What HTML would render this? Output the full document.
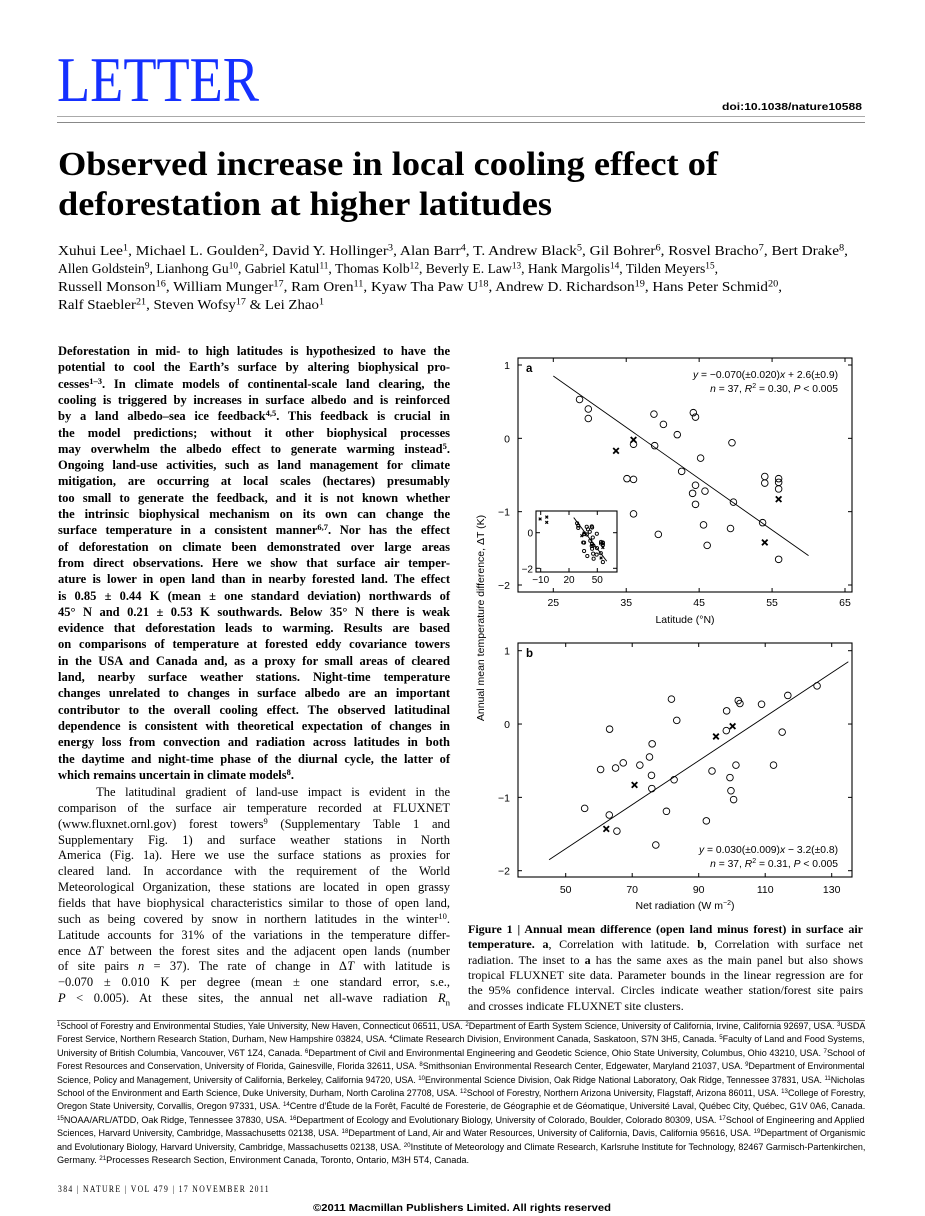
<!DOCTYPE html>
<html><head><meta charset="utf-8">
<style>
html,body{margin:0;padding:0;background:#fff}
body{width:925px;height:1216px;position:relative;overflow:hidden;font-family:"Liberation Serif",serif;color:#000}
.l{position:absolute;white-space:nowrap;transform-origin:0 50%}
.j{text-align:justify;text-align-last:justify}
.ab{font-weight:bold;font-size:12.5px;left:58px;width:392px;height:16px;line-height:16px}
.bd{font-size:12.5px;left:58px;width:392px;height:16px;line-height:16px}
.cap{font-size:12px;left:468px;width:395px;height:15px;line-height:15px}
.af{font-family:"Liberation Sans",sans-serif;font-size:9.2px;left:57px;width:808px;height:13px;line-height:13px}
.au{font-size:14px;left:58px;height:18px;line-height:18px}
sup{font-size:68%;line-height:0;vertical-align:0.45em}
</style></head><body>
<div class="l" style="left:57px;top:48px;font-size:64px;line-height:64px;color:#1530ff;width:202px" data-fit="1">LETTER</div>
<div class="l" style="left:722px;top:101px;font-family:'Liberation Sans',sans-serif;font-weight:bold;font-size:10.5px;width:140px" data-fit="1">doi:10.1038/nature10588</div>
<div style="position:absolute;left:57px;top:116px;width:808px;height:1px;background:#aaa"></div>
<div style="position:absolute;left:57px;top:122px;width:808px;height:1px;background:#888"></div>
<div class="l" style="left:58px;top:146px;font-weight:bold;font-size:34px;line-height:38px;width:660px" data-fit="1">Observed increase in local cooling effect of</div>
<div class="l" style="left:58px;top:186px;font-weight:bold;font-size:34px;line-height:38px;width:494px" data-fit="1">deforestation at higher latitudes</div>
<div class="l au" style="top:243px;width:790px" data-fit="1">Xuhui Lee<sup>1</sup>, Michael L. Goulden<sup>2</sup>, David Y. Hollinger<sup>3</sup>, Alan Barr<sup>4</sup>, T. Andrew Black<sup>5</sup>, Gil Bohrer<sup>6</sup>, Rosvel Bracho<sup>7</sup>, Bert Drake<sup>8</sup>,</div>
<div class="l au" style="top:261px;width:660px" data-fit="1">Allen Goldstein<sup>9</sup>, Lianhong Gu<sup>10</sup>, Gabriel Katul<sup>11</sup>, Thomas Kolb<sup>12</sup>, Beverly E. Law<sup>13</sup>, Hank Margolis<sup>14</sup>, Tilden Meyers<sup>15</sup>,</div>
<div class="l au" style="top:279px;width:724px" data-fit="1">Russell Monson<sup>16</sup>, William Munger<sup>17</sup>, Ram Oren<sup>11</sup>, Kyaw Tha Paw U<sup>18</sup>, Andrew D. Richardson<sup>19</sup>, Hans Peter Schmid<sup>20</sup>,</div>
<div class="l au" style="top:297px;width:266px" data-fit="1">Ralf Staebler<sup>21</sup>, Steven Wofsy<sup>17</sup> &amp; Lei Zhao<sup>1</sup></div>

<div id="leftcol"></div>
<div id="capcol"></div>
<div style="position:absolute;left:57px;top:1020px;width:808px;height:1px;background:#666"></div>
<div id="affcol"></div>

<div class="l" style="left:58px;top:1184px;font-size:9px;letter-spacing:1.6px;width:212px" data-fit="1">384 | NATURE | VOL 479 | 17 NOVEMBER 2011</div>
<div class="l" style="left:313px;top:1202px;font-family:'Liberation Sans',sans-serif;font-weight:bold;font-size:10.5px;width:298px" data-fit="1">©2011 Macmillan Publishers Limited. All rights reserved</div>

<svg id="fig" style="position:absolute;left:460px;top:350px" width="410" height="580" viewBox="460 350 410 580" font-family="Liberation Sans, sans-serif"></svg>

<script>
// ---- Panel a data (latitude vs ΔT) ----
const latCircX=[28.6,29.8,29.8,38.8,40.1,42.0,44.2,44.5,49.5,36.0,38.9,45.2,42.6,35.1,36.0,54.0,54.0,55.9,55.9,55.9,44.5,44.1,45.8,49.7,44.5,36.0,53.7,45.6,49.3,39.4,46.1,55.9];
const latCircY=[0.53,0.40,0.27,0.33,0.19,0.05,0.35,0.29,-0.06,-0.08,-0.10,-0.27,-0.45,-0.55,-0.56,-0.52,-0.61,-0.55,-0.60,-0.69,-0.64,-0.75,-0.72,-0.87,-0.90,-1.03,-1.15,-1.18,-1.23,-1.31,-1.46,-1.65];
const latCrossX=[33.6,36.0,55.9,54.0];
const latCrossY=[-0.17,-0.02,-0.83,-1.42];
const tropCrossX=[-10.6,-3.6,-3.6];
const tropCrossY=[0.77,0.88,0.58];
const latFit=[-0.070,2.6]; const latFitRange=[25,60];
const aXTicks=[25,35,45,55,65]; const aYTicks=[1,0,-1,-2];
const insetXTicks=[-10,20,50]; const insetYTicks=[0,-2];
// ---- Panel b data (net radiation vs ΔT) ----
const radCircX=[55.7,60.5,63.2,63.1,65.0,65.4,67.3,72.3,75.2,76.0,75.8,75.9,77.1,80.3,81.8,82.6,83.4,92.3,94.0,98.4,98.3,99.4,99.7,100.5,101.2,101.9,102.4,108.9,112.5,115.1,116.8,125.6];
const radCircY=[-1.15,-0.62,-0.07,-1.24,-0.60,-1.46,-0.53,-0.56,-0.45,-0.27,-0.70,-0.88,-1.65,-1.19,0.34,-0.76,0.05,-1.32,-0.64,0.18,-0.09,-0.73,-0.91,-1.03,-0.56,0.32,0.28,0.27,-0.56,-0.11,0.39,0.52];
const radCrossX=[62.2,70.7,95.2,100.2];
const radCrossY=[-1.43,-0.83,-0.17,-0.03];
const radFit=[0.030,-3.2]; const radFitRange=[45,135];
const bXTicks=[50,70,90,110,130]; const bYTicks=[1,0,-1,-2];

const NS='http://www.w3.org/2000/svg';
const svg=document.getElementById('fig');
function mk(tag,attrs,parent){const e=document.createElementNS(NS,tag);for(const k in attrs)e.setAttribute(k,attrs[k]);(parent||svg).appendChild(e);return e;}
function lin(d0,d1,r0,r1){return v=>r0+(v-d0)*(r1-r0)/(d1-d0);}
function txt(s,attrs,parent){const t=mk('text',attrs,parent);t.textContent=s;return t;}

function panel2(o){
  const g=mk('g',{});
  
  
  const x=lin(o.xc[0],o.xc[1],o.xc[2],o.xc[3]), y=lin(o.yc[0],o.yc[1],o.yc[2],o.yc[3]);
  const fr=mk('rect',{x:o.L,y:o.T,width:o.R-o.L,height:o.B-o.T,fill:'none',stroke:'#000','stroke-width':1.1},g);
  
  
  o.xt.forEach(v=>{
    mk('line',{x1:x(v),x2:x(v),y1:o.B,y2:o.B-4,stroke:'#000'},g);
    mk('line',{x1:x(v),x2:x(v),y1:o.T,y2:o.T+4,stroke:'#000'},g);
    const t=txt(v<0?'\u2212'+(-v):String(v),{x:x(v),y:o.B+o.xly,'font-size':o.fs,'text-anchor':'middle'},g);
    
    
  });
  o.yt.forEach(v=>{
    mk('line',{x1:o.L,x2:o.L+4,y1:y(v),y2:y(v),stroke:'#000'},g);
    mk('line',{x1:o.R,x2:o.R-4,y1:y(v),y2:y(v),stroke:'#000'},g);
    const t=txt(v<0?'\u2212'+(-v):String(v),{x:o.L-o.ylx,y:y(v)+4,'font-size':o.fs,'text-anchor':'end'},g);
    
    
  });
  const fl=mk('line',{x1:x(o.fr[0]),y1:y(o.fit[0]*o.fr[0]+o.fit[1]),x2:x(o.fr[1]),y2:y(o.fit[0]*o.fr[1]+o.fit[1]),stroke:'#000','stroke-width':0.9},g);
  
  
  o.cx.forEach((v,i)=>{
    const c=mk('circle',{cx:x(v),cy:y(o.cy[i]),r:o.r,fill:'none',stroke:'#000','stroke-width':0.9},g);
    
    
  });
  o.kx.forEach((v,i)=>{
    const px=x(v),py=y(o.ky[i]),s=o.r*0.85;
    const p=mk('path',{d:`M${px-s},${py-s}L${px+s},${py+s}M${px-s},${py+s}L${px+s},${py-s}`,stroke:'#000','stroke-width':o.r>2?1.8:1.2},g);
    
    
  });
  if(o.label){
    const pl=txt(o.label,{x:o.L+8,y:o.T+14,'font-size':11.5,'font-weight':'bold'},g);
    
    
  }
  return g;
}
panel2({name:'panel-a',L:518,R:852,T:358,B:592,xc:[25,65,553.3,845],yc:[1,-2,365,585],xt:aXTicks,yt:aYTicks,xly:14,ylx:8,fs:10.5,r:3.3,
  cx:latCircX,cy:latCircY,kx:latCrossX,ky:latCrossY,fit:latFit,fr:latFitRange,label:'a'});
panel2({name:'panel-a-inset',L:536,R:617,T:511,B:572,xc:[-10,50,540.7,597.3],yc:[0,-2,532.7,568.3],xt:insetXTicks,yt:insetYTicks,xly:11,ylx:3,fs:10,r:1.6,
  cx:latCircX,cy:latCircY,kx:latCrossX.concat(tropCrossX),ky:latCrossY.concat(tropCrossY),fit:latFit,fr:[25,60],label:''});
panel2({name:'panel-b',L:518,R:852,T:643,B:877,xc:[50,130,565.7,831.7],yc:[1,-2,650.7,870.7],xt:bXTicks,yt:bYTicks,xly:16,ylx:8,fs:10.5,r:3.3,
  cx:radCircX,cy:radCircY,kx:radCrossX,ky:radCrossY,fit:radFit,fr:radFitRange,label:'b'});

function eq(lines,xr,y0,name){
  lines.forEach((h,i)=>{
    const t=mk('text',{x:xr,y:y0+i*14,'font-size':10.3,'text-anchor':'end'});
    t.innerHTML=h;
    
    
  });
}
eq(['<tspan font-style="italic">y</tspan> = \u22120.070(\u00b10.020)<tspan font-style="italic">x</tspan> + 2.6(\u00b10.9)','<tspan font-style="italic">n</tspan> = 37, <tspan font-style="italic">R</tspan><tspan font-size="7" dy="-4">2</tspan><tspan dy="4"> =  0.30, </tspan><tspan font-style="italic">P</tspan> &lt; 0.005'],838,378,'regression-equation-a');
eq(['<tspan font-style="italic">y</tspan> = 0.030(\u00b10.009)<tspan font-style="italic">x</tspan> \u2212 3.2(\u00b10.8)','<tspan font-style="italic">n</tspan> = 37, <tspan font-style="italic">R</tspan><tspan font-size="7" dy="-4">2</tspan><tspan dy="4"> =  0.31, </tspan><tspan font-style="italic">P</tspan> &lt; 0.005'],838,853,'regression-equation-b');
let t=txt('Latitude (\u00b0N)',{x:685,y:623,'font-size':10.5,'text-anchor':'middle'});


t=mk('text',{x:685,y:909,'font-size':10.5,'text-anchor':'middle'});
t.innerHTML='Net radiation (W m<tspan font-size="7" dy="-4">\u22122</tspan><tspan dy="4">)</tspan>';


t=txt('Annual mean temperature difference, \u0394T (K)',{x:0,y:0,'font-size':10.5,'text-anchor':'middle',transform:'translate(484,618) rotate(-90)'});



// ---- text columns ----
const abs=["Deforestation in mid- to high latitudes is hypothesized to have the",
"potential to cool the Earth\u2019s surface by altering biophysical pro-",
"cesses<sup>1\u20133</sup>. In climate models of continental-scale land clearing, the",
"cooling is triggered by increases in surface albedo and is reinforced",
"by a land albedo\u2013sea ice feedback<sup>4,5</sup>. This feedback is crucial in",
"the model predictions; without it other biophysical processes",
"may overwhelm the albedo effect to generate warming instead<sup>5</sup>.",
"Ongoing land-use activities, such as land management for climate",
"mitigation, are occurring at local scales (hectares) presumably",
"too small to generate the feedback, and it is not known whether",
"the intrinsic biophysical mechanism on its own can change the",
"surface temperature in a consistent manner<sup>6,7</sup>. Nor has the effect",
"of deforestation on climate been demonstrated over large areas",
"from direct observations. Here we show that surface air temper-",
"ature is lower in open land than in nearby forested land. The effect",
"is 0.85 \u00b1 0.44 K (mean \u00b1 one standard deviation) northwards of",
"45\u00b0 N and 0.21 \u00b1 0.53 K southwards. Below 35\u00b0 N there is weak",
"evidence that deforestation leads to warming. Results are based",
"on comparisons of temperature at forested eddy covariance towers",
"in the USA and Canada and, as a proxy for small areas of cleared",
"land, nearby surface weather stations. Night-time temperature",
"changes unrelated to changes in surface albedo are an important",
"contributor to the overall cooling effect. The observed latitudinal",
"dependence is consistent with theoretical expectation of changes in",
"energy loss from convection and radiation across latitudes in both",
"the daytime and night-time phase of the diurnal cycle, the latter of",
"which remains uncertain in climate models<sup>8</sup>."];
const body=["&nbsp;&nbsp;&nbsp;&nbsp;The latitudinal gradient of land-use impact is evident in the",
"comparison of the surface air temperature recorded at FLUXNET",
"(www.fluxnet.ornl.gov) forest towers<sup>9</sup> (Supplementary Table 1 and",
"Supplementary Fig. 1) and surface weather stations in North",
"America (Fig. 1a). Here we use the surface stations as proxies for",
"cleared land. In accordance with the requirement of the World",
"Meteorological Organization, these stations are located in open grassy",
"fields that have biophysical characteristics similar to those of open land,",
"such as being covered by snow in northern latitudes in the winter<sup>10</sup>.",
"Latitude accounts for 31% of the variations in the temperature differ-",
"ence \u0394<i>T</i> between the forest sites and the adjacent open lands (number",
"of site pairs <i>n</i> = 37). The rate of change in \u0394<i>T</i> with latitude is",
"\u22120.070 \u00b1 0.010 K per degree (mean \u00b1 one standard error, s.e.,",
"<i>P</i> &lt; 0.005). At these sites, the annual net all-wave radiation <i>R</i><sub style='font-size:70%'>n</sub>"];
const cap=["<b>Figure 1 | Annual mean difference (open land minus forest) in surface air</b>",
"<b>temperature.</b>  <b>a</b>, Correlation with latitude. <b>b</b>, Correlation with surface net",
"radiation. The inset to <b>a</b> has the same axes as the main panel but also shows",
"tropical FLUXNET site data. Parameter bounds in the linear regression are for",
"the 95% confidence interval. Circles indicate weather station/forest site pairs",
"and crosses indicate FLUXNET site clusters."];
const aff=["<sup>1</sup>School of Forestry and Environmental Studies, Yale University, New Haven, Connecticut 06511, USA. <sup>2</sup>Department of Earth System Science, University of California, Irvine, California 92697, USA. <sup>3</sup>USDA",
"Forest Service, Northern Research Station, Durham, New Hampshire 03824, USA. <sup>4</sup>Climate Research Division, Environment Canada, Saskatoon, S7N 3H5, Canada. <sup>5</sup>Faculty of Land and Food Systems,",
"University of British Columbia, Vancouver, V6T 1Z4, Canada. <sup>6</sup>Department of Civil and Environmental Engineering and Geodetic Science, Ohio State University, Columbus, Ohio 43210, USA. <sup>7</sup>School of",
"Forest Resources and Conservation, University of Florida, Gainesville, Florida 32611, USA. <sup>8</sup>Smithsonian Environmental Research Center, Edgewater, Maryland 21037, USA. <sup>9</sup>Department of Environmental",
"Science, Policy and Management, University of California, Berkeley, California 94720, USA. <sup>10</sup>Environmental Science Division, Oak Ridge National Laboratory, Oak Ridge, Tennessee 37831, USA. <sup>11</sup>Nicholas",
"School of the Environment and Earth Science, Duke University, Durham, North Carolina 27708, USA. <sup>12</sup>School of Forestry, Northern Arizona University, Flagstaff, Arizona 86011, USA. <sup>13</sup>College of Forestry,",
"Oregon State University, Corvallis, Oregon 97331, USA. <sup>14</sup>Centre d\u2019\u00c9tude de la For\u00eat, Facult\u00e9 de Foresterie, de G\u00e9ographie et de G\u00e9omatique, Universit\u00e9 Laval, Qu\u00e9bec City, Qu\u00e9bec, G1V 0A6, Canada.",
"<sup>15</sup>NOAA/ARL/ATDD, Oak Ridge, Tennessee 37830, USA. <sup>16</sup>Department of Ecology and Evolutionary Biology, University of Colorado, Boulder, Colorado 80309, USA. <sup>17</sup>School of Engineering and Applied",
"Sciences, Harvard University, Cambridge, Massachusetts 02138, USA. <sup>18</sup>Department of Land, Air and Water Resources, University of California, Davis, California 95616, USA. <sup>19</sup>Department of Organismic",
"and Evolutionary Biology, Harvard University, Cambridge, Massachusetts 02138, USA. <sup>20</sup>Institute of Meteorology and Climate Research, Karlsruhe Institute for Technology, 82467 Garmisch-Partenkirchen,",
"Germany. <sup>21</sup>Processes Research Section, Environment Canada, Toronto, Ontario, M3H 5T4, Canada."];

function place(container,arr,cls,y0,step,justifyLast,name){
  const c=document.getElementById(container);
  arr.forEach((h,i)=>{
    const d=document.createElement('div');
    const last=i===arr.length-1;
    d.className='l '+cls+((!last||justifyLast)?' j':'');
    d.style.top=(y0+i*step-8)+'px';
    d.innerHTML=h;
    
    
    c.appendChild(d);
  });
}
place('leftcol',abs,'ab',351,16.3,false,'abstract-line');
place('leftcol',body,'bd',792,15.85,true,'body-line');
place('capcol',cap,'cap',930,15.3,false,'caption-line');
place('affcol',aff,'af',1028,13.4,false,'affiliation-line');

document.querySelectorAll('.l').forEach(el=>{
  const w=parseFloat(getComputedStyle(el).width);
  const sw=el.scrollWidth;
  if(el.dataset.fit){
    el.style.width='auto';
    const nat=el.getBoundingClientRect().width;
    if(nat>0) el.style.transform='scaleX('+(w/nat)+')';
    el.style.width=nat+'px';
  } else if(sw>w+0.5){
    el.style.textAlignLast='left';
    el.style.width=sw+'px';
    el.style.transform='scaleX('+(w/sw)+')';
  }
});
</script>
</body></html>
